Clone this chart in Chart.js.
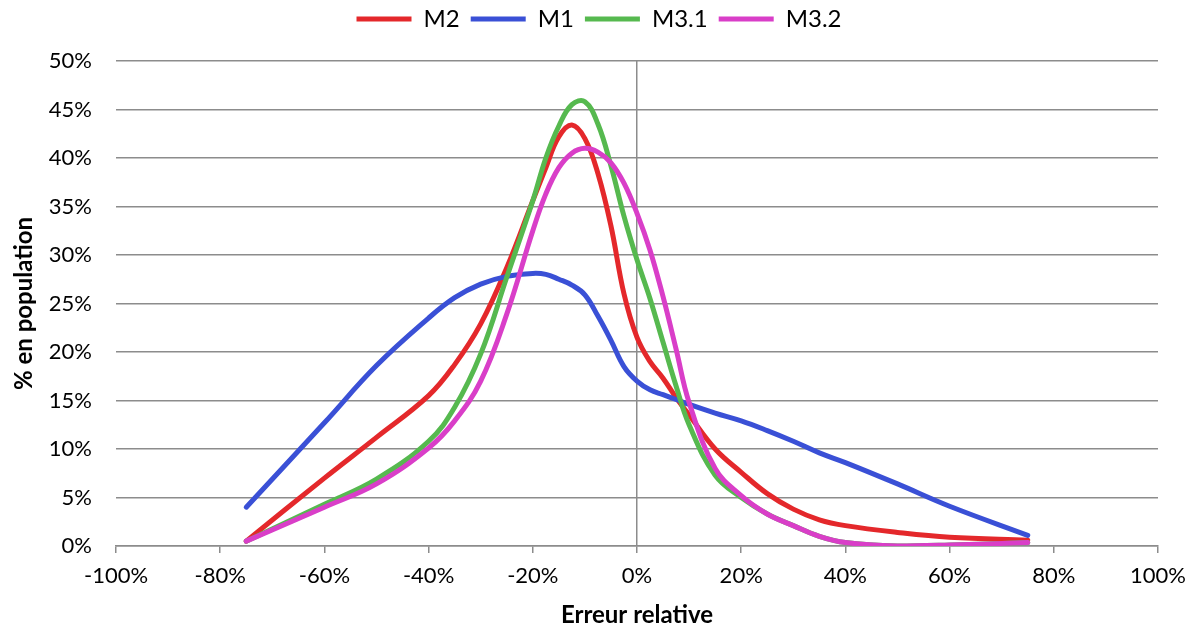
<!DOCTYPE html>
<html>
<head>
<meta charset="utf-8">
<script src="https://cdn.jsdelivr.net/npm/chart.js@4/dist/chart.umd.min.js"></script>
<style>
    html, body { margin: 0; padding: 0; background: #fff; }
    #wrap { width: 1192px; height: 630px; }
</style>
</head>
<body>
<div id="wrap"><canvas id="errChart" width="1192" height="630"></canvas></div>
<script>
// relative error (%) at which the curves were read
const errX = [-75, -60, -50, -40, -35, -30, -25, -20, -17.5, -15, -12.5, -10, -7.5, -5, -2.5, 0, 2.5, 5, 7.5, 10, 15, 20, 25, 30, 35, 40, 50, 60, 75];

// % of population per method
const m2  = [0.5, 7.0, 11.2, 15.5, 18.7, 22.9, 28.7, 35.6, 39.0, 42.2, 43.4, 42.0, 38.4, 33.0, 26.0, 21.5, 19.0, 17.3, 15.3, 13.5, 10.0, 7.6, 5.4, 3.8, 2.7, 2.1, 1.4, 0.9, 0.6];
const m1  = [4.0, 12.7, 18.6, 23.5, 25.6, 27.0, 27.8, 28.1, 28.0, 27.5, 26.9, 25.9, 23.7, 21.2, 18.5, 17.0, 16.1, 15.6, 15.1, 14.6, 13.7, 12.9, 11.9, 10.8, 9.6, 8.6, 6.4, 4.1, 1.1];
const m31 = [0.5, 4.3, 6.9, 10.8, 14.3, 19.8, 27.7, 35.6, 40.0, 43.3, 45.5, 45.8, 43.5, 39.2, 34.0, 29.5, 25.5, 21.0, 16.5, 12.5, 7.3, 5.0, 3.3, 2.1, 1.0, 0.35, 0, 0.1, 0.35];
const m32 = [0.5, 4.0, 6.4, 10.1, 12.9, 17.0, 23.9, 32.5, 36.3, 39.0, 40.5, 41.0, 40.6, 39.5, 37.4, 34.3, 30.5, 25.7, 20.3, 14.8, 8.0, 5.2, 3.3, 2.1, 1.0, 0.35, 0, 0.1, 0.35];

const xTicks = [-100, -80, -60, -40, -20, 0, 20, 40, 60, 80, 100];
const yTicks = [0, 5, 10, 15, 20, 25, 30, 35, 40, 45, 50];

const fontFam = 'Lato, "Open Sans", sans-serif';
const gridGray = '#8c8c8c';

function toPoints(vals) {
    return vals.map((v, i) => ({ x: errX[i], y: v }));
}

function series(label, vals, color, order) {
    return {
        label: label,
        data: toPoints(vals),
        borderColor: color,
        backgroundColor: color,
        borderWidth: 5,
        borderCapStyle: 'round',
        borderJoinStyle: 'round',
        pointRadius: 0,
        tension: 0.4,
        fill: false,
        order: order
    };
}

// fixed legend band height, legend nudged a bit right/up like the original
const legendBand = {
    id: 'legendBand',
    beforeInit(chart) {
        const fit = chart.legend.fit;
        chart.legend.fit = function () {
            fit.call(this);
            this.height = 61;
        };
    },
    afterLayout(chart) {
        const lg = chart.legend;
        lg.left += 20;
        lg.right += 20;
        lg.top -= 4;
    }
};

const ctx = document.getElementById('errChart').getContext('2d');

new Chart(ctx, {
    type: 'line',
    data: {
        datasets: [
            series('M2', m2, '#e4282b', 4),
            series('M1', m1, '#3a50d6', 3),
            series('M3.1', m31, '#56b94f', 2),
            series('M3.2', m32, '#d93ec8', 1)
        ]
    },
    plugins: [legendBand],
    options: {
        responsive: false,
        animation: false,
        layout: { padding: { left: 0, right: 34, top: 0, bottom: 0 } },
        plugins: {
            tooltip: { enabled: false },
            legend: {
                position: 'top',
                labels: {
                    usePointStyle: true,
                    pointStyleWidth: 55,
                    pointStyle: 'line',
                    boxHeight: 24,
                    padding: 11,
                    color: '#000',
                    font: { family: fontFam, size: 24 },
                    sort: (a, b) => a.datasetIndex - b.datasetIndex
                }
            }
        },
        scales: {
            x: {
                type: 'linear',
                min: -100,
                max: 100,
                afterBuildTicks: s => { s.ticks = xTicks.map(v => ({ value: v })); },
                afterFit: s => {
                    s.height = 84;
                    s.paddingLeft = 0;
                    s.paddingRight = 0;
                },
                ticks: {
                    callback: v => v + '%',
                    color: '#000',
                    padding: 10,
                    maxRotation: 0,
                    font: { family: fontFam, size: 22 }
                },
                grid: {
                    color: c => (c.tick && c.tick.value === 0 ? gridGray : 'rgba(0,0,0,0)'),
                    tickColor: gridGray,
                    tickLength: 7,
                    lineWidth: 1.5
                },
                border: { display: true, color: gridGray, width: 1.5 },
                title: {
                    display: true,
                    text: 'Erreur relative',
                    color: '#000',
                    font: { family: fontFam, size: 24, weight: 'bold' },
                    padding: { top: 12, bottom: 0 }
                }
            },
            y: {
                min: 0,
                max: 50,
                afterBuildTicks: s => { s.ticks = yTicks.map(v => ({ value: v })); },
                afterFit: s => { s.width = 116; },
                ticks: {
                    callback: v => v + '%',
                    color: '#000',
                    padding: 24,
                    font: { family: fontFam, size: 22 }
                },
                grid: {
                    color: gridGray,
                    lineWidth: 1.5,
                    drawTicks: false
                },
                border: { display: false },
                title: {
                    display: true,
                    text: '% en population',
                    color: '#000',
                    font: { family: fontFam, size: 24, weight: 'bold' },
                    padding: { top: 10, bottom: 0 }
                }
            }
        }
    }
});
</script>
</body>
</html>
